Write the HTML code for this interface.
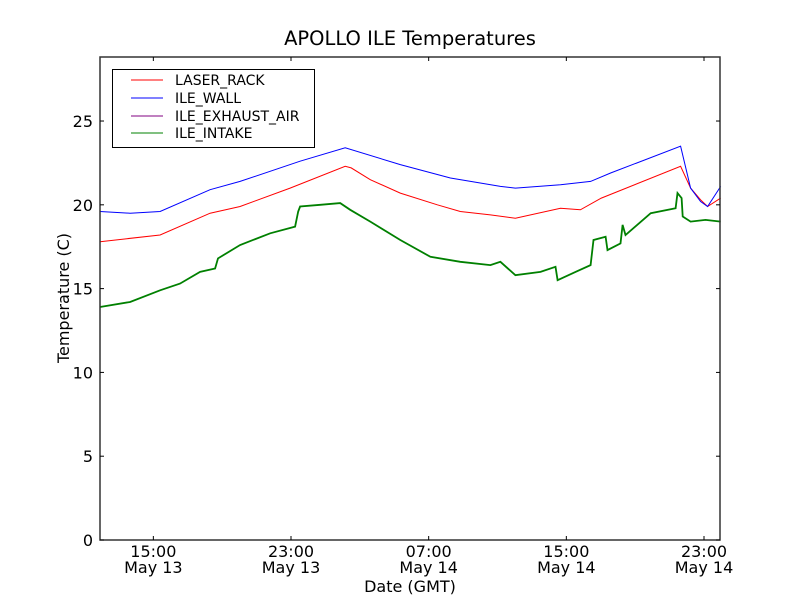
<!DOCTYPE html>
<html><head><meta charset="utf-8"><style>
body{margin:0;background:#fff}
svg{display:block;font-family:"DejaVu Sans","Liberation Sans",sans-serif}
</style></head><body>
<svg id="chart" width="800" height="600" viewBox="0 0 800 600">
<rect width="800" height="600" fill="#fff"/>
<text x="410" y="45" font-size="19.5" text-anchor="middle">APOLLO ILE Temperatures</text>
<g id="series"></g>
<g id="axes"></g>
<text x="410" y="592" font-size="16" text-anchor="middle">Date (GMT)</text>
<text transform="translate(69,298) rotate(-90)" font-size="16" text-anchor="middle">Temperature (C)</text>
<g>
<rect x="112.5" y="69.5" width="202" height="78" fill="#fff" stroke="#000" stroke-width="1"/>
<line x1="131" y1="80" x2="163" y2="80" stroke="#ff0000"/><text x="175" y="85" font-size="14">LASER_RACK</text>
<line x1="131" y1="98" x2="163" y2="98" stroke="#0000ff"/><text x="175" y="103" font-size="14">ILE_WALL</text>
<line x1="131" y1="116" x2="163" y2="116" stroke="#800080"/><text x="175" y="121" font-size="14">ILE_EXHAUST_AIR</text>
<line x1="131" y1="133" x2="163" y2="133" stroke="#008000"/><text x="175" y="138" font-size="14">ILE_INTAKE</text>
</g>
</svg>
<script>
// hours since May 13 00:00 GMT
const redHours=[11.9,15.39,18.3,20.04,22.95,26.15,26.5,27.61,29.35,31.5,32.84,34.59,36.04,38.66,39.82,41.03,45.64,46.22,46.8,47.21,47.97];
const redTemps=[17.8,18.2,19.5,19.9,21.0,22.3,22.2,21.5,20.7,20.0,19.6,19.4,19.2,19.8,19.7,20.4,22.3,21.0,20.3,19.9,20.4];
const blueHours=[11.9,13.65,15.39,18.3,20.04,23.53,26.15,29.35,32.26,35.17,36.04,38.66,40.41,41.57,45.64,46.22,46.8,47.21,47.97];
const blueTemps=[19.6,19.5,19.6,20.9,21.4,22.6,23.4,22.4,21.6,21.1,21.0,21.2,21.4,21.9,23.5,21.0,20.2,19.9,21.1];
const greenHours=[11.9,13.65,15.39,16.55,17.72,18.59,18.76,20.04,21.79,23.24,23.42,23.53,24.7,25.86,26.44,27.61,29.35,31.1,32.84,34.59,35.17,36.04,37.5,38.37,38.49,39.53,40.41,40.58,41.28,41.39,42.15,42.27,42.44,43.9,45.35,45.46,45.7,45.76,46.22,47.09,47.97];
const greenTemps=[13.9,14.2,14.9,15.3,16.0,16.2,16.8,17.6,18.3,18.7,19.6,19.9,20.0,20.1,19.7,19.0,17.9,16.9,16.6,16.4,16.6,15.8,16.0,16.3,15.5,16.0,16.4,17.9,18.1,17.3,17.7,18.8,18.2,19.5,19.8,20.7,20.4,19.3,19.0,19.1,19.0];
const yTicks=[0,5,10,15,20,25];
const xTickHours=[15,23,31,39,47];
const xTickTimes=["15:00","23:00","07:00","15:00","23:00"];
const xTickDates=["May 13","May 13","May 14","May 14","May 14"];

const L=100,R=720,T=57,B=540,XMIN=11.9,XMAX=47.93,YMIN=0,YMAX=28.82;
const sx=h=>L+(h-XMIN)/(XMAX-XMIN)*(R-L);
const sy=v=>B-(v-YMIN)/(YMAX-YMIN)*(B-T);
const NS="http://www.w3.org/2000/svg";
const series=document.getElementById('series'),axes=document.getElementById('axes');
function line(xs,ys,color,name,w){
  const p=document.createElementNS(NS,'polyline');
  p.setAttribute('points',xs.map((h,i)=>sx(h).toFixed(1)+','+sy(ys[i]).toFixed(1)).join(' '));
  p.setAttribute('fill','none');p.setAttribute('stroke',color);p.setAttribute('stroke-width',w);
  
  
  series.appendChild(p);
}
line(greenHours,greenTemps,'#008000','ile-intake-line','1.8');
line(redHours,redTemps,'#ff0000','laser-rack-line','1');
line(blueHours,blueTemps,'#0000ff','ile-wall-line','1');
let h='<rect x="100" y="57" width="620" height="483" fill="none" stroke="#333" stroke-width="1.5"/>';
yTicks.forEach(v=>{const y=sy(v);
 h+=`<line x1="100" y1="${y}" x2="104" y2="${y}" stroke="#000"/><line x1="716" y1="${y}" x2="720" y2="${y}" stroke="#000"/>`;
 h+=`<text x="93" y="${y+6}" font-size="16" text-anchor="end">${v}</text>`;});
xTickHours.forEach((v,i)=>{const x=sx(v);
 h+=`<line x1="${x}" y1="540" x2="${x}" y2="536" stroke="#000"/><line x1="${x}" y1="57" x2="${x}" y2="61" stroke="#000"/>`;
 h+=`<text x="${x}" y="557" font-size="16" text-anchor="middle">${xTickTimes[i]}</text><text x="${x}" y="573" font-size="16" text-anchor="middle">${xTickDates[i]}</text>`;});
axes.innerHTML=h;


</script>
</body></html>
